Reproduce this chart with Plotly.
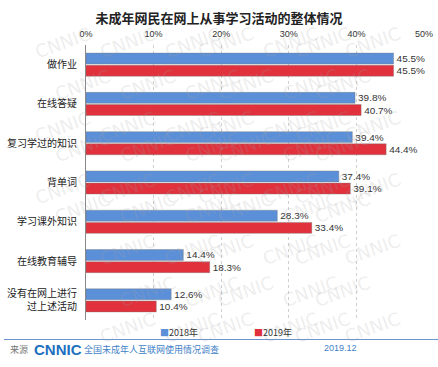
import plotly.graph_objects as go

categories = ["做作业", "在线答疑", "复习学过的知识", "背单词", "学习课外知识", "在线教育辅导", "没有在网上进行<br>过上述活动"]
v2018 = [45.5, 39.8, 39.4, 37.4, 28.3, 14.4, 12.6]
v2019 = [45.5, 40.7, 44.4, 39.1, 33.4, 18.3, 10.4]
series_names = ["2018年", "2019年"]
colors = ["#5B8FD8", "#E0313C"]
tick_vals = [0, 10, 20, 30, 40, 50]
tick_text = ["0%", "10%", "20%", "30%", "40%", "50%"]

W, H = 438, 367
ML, MR, MT, MB = 86, 14, 45, 47
PH = H - MT - MB
PW = W - ML - MR

def py(pix):
    return (H - MB - pix) / PH

def px(pix):
    return (pix - ML) / PW

fig = go.Figure()
for name, vals, color in zip(series_names, [v2018, v2019], colors):
    fig.add_trace(go.Bar(
        y=categories, x=vals, orientation="h", name=name,
        marker=dict(color=color, line=dict(color="rgba(120,120,120,0.55)", width=0.7)),
        text=[f"{v:.1f}%" for v in vals], textposition="outside",
        textfont=dict(size=10, color="#333", family="Liberation Sans"), cliponaxis=False,
        showlegend=False,
    ))

# watermark (kept fully inside the picture)
wm_x = [30, 95, 160, 225, 290, 355, 405]
wm_y = [20, 62, 104, 146, 188, 230, 272, 314, 350]
for j, yy in enumerate(wm_y):
    for i, xx in enumerate(wm_x):
        xs = xx + (20 if j % 2 else 0)
        if xs > 408 or (xs < 80 and yy > 260):
            continue
        fig.add_annotation(x=px(xs), y=py(yy), xref="paper", yref="paper", text="CNNIC", showarrow=False,
                           textangle=-20, font=dict(size=18, color="rgba(165,165,165,0.2)", family="DejaVu Sans"))

fig.update_layout(
    width=W, height=H,
    margin=dict(l=ML, r=MR, t=MT, b=MB, autoexpand=False),
    paper_bgcolor="white", plot_bgcolor="white",
    barmode="group", bargap=0.38, bargroupgap=0.1,
    font=dict(family="Noto Sans CJK SC", size=10, color="#222"),
    title=dict(text="<b>未成年网民在网上从事学习活动的整体情况</b>", x=0.5, xanchor="center", y=1 - 18 / H, yanchor="middle",
               font=dict(size=13, color="#222")),
    xaxis=dict(side="top", range=[0, 50], tickvals=tick_vals, ticktext=tick_text,
               showgrid=True, gridcolor="#cfcfcf", griddash="dot", gridwidth=1, automargin=False,
               ticks="", ticklabelstandoff=5,
               tickfont=dict(size=9, color="#333", family="Liberation Sans"), zeroline=False, showline=False),
    yaxis=dict(autorange="reversed", showline=True, linecolor="#888", linewidth=1, automargin=False,
               ticks="", tickfont=dict(size=10, color="#222"), ticklabelstandoff=6),
    showlegend=False,
)

# legend (small square markers as in reference)
for name, color, x0 in zip(series_names, colors, [158, 252]):
    fig.add_annotation(xref="paper", yref="paper", x=px(x0), y=py(332), xanchor="left", yanchor="middle",
                       text=f"<span style='color:{color}'>■</span>{name}", showarrow=False,
                       font=dict(size=9, color="#333"))

fig.add_shape(type="line", xref="paper", yref="paper", x0=px(4), x1=px(438), y0=py(339.5), y1=py(339.5),
              line=dict(color="#6A95CE", width=1))
fig.add_annotation(xref="paper", yref="paper", x=px(8), y=py(349), xanchor="left", yanchor="middle",
                   text="来源", showarrow=False, font=dict(size=9, color="#777"))
fig.add_annotation(xref="paper", yref="paper", x=px(32), y=py(349), xanchor="left", yanchor="middle",
                   text="<b>CNNIC</b>", showarrow=False, font=dict(size=15, color="#1E6FC0", family="Liberation Sans"))
fig.add_annotation(xref="paper", yref="paper", x=px(82), y=py(349), xanchor="left", yanchor="middle",
                   text="全国未成年人互联网使用情况调查", showarrow=False, font=dict(size=9, color="#3F7FC8"))
fig.add_annotation(xref="paper", yref="paper", x=px(340), y=py(348), xanchor="center", yanchor="middle",
                   text="2019.12", showarrow=False, font=dict(size=9, color="#3F7FC8", family="Liberation Sans"))

fig.write_html("out.html", config={"displayModeBar": False},
               post_script="document.body.style.margin='0';document.body.style.overflow='hidden';")
